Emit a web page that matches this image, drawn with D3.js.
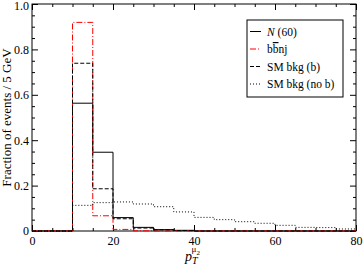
<!DOCTYPE html>
<html>
<head>
<meta charset="utf-8">
<script src="https://cdn.jsdelivr.net/npm/d3@7"></script>
<style>
  body { margin: 0; background: #fff; }
  svg { display: block; font-family: "Liberation Serif", "DejaVu Serif", serif; }
  .axis path { display: none; }
  .axis line { stroke: #000; stroke-width: 1; }
  .axis text { font-size: 12px; fill: #000; font-family: "Liberation Serif", serif; }
  .hist { fill: none; stroke-width: 1; }
</style>
</head>
<body>
<svg id="chart"></svg>
<script>
// bin lower edges (GeV), each bin 5 GeV wide
var binEdges = [0, 5, 10, 15, 20, 25, 30, 35, 40, 45, 50, 55, 60, 65, 70, 75]

var heavyN = [0, 0, 0.563, 0.347, 0.059, 0.016, 0.006, 0.003, 0, 0, 0, 0, 0, 0, 0, 0]
var bbnj = [0, 0, 0.919, 0.067, 0.007, 0.001, 0, 0, 0, 0, 0, 0, 0, 0, 0, 0]
var smB = [0, 0, 0.739, 0.186, 0.054, 0.013, 0.005, 0.002, 0, 0, 0, 0, 0, 0, 0, 0]
var smNoB = [0, 0, 0.113, 0.125, 0.128, 0.119, 0.107, 0.084, 0.060, 0.050, 0.041, 0.034, 0.025, 0.016, 0.015, 0.009]

var xTicks = [0, 20, 40, 60, 80]
var yTicks = [0, 0.2, 0.4, 0.6, 0.8, 1.0]

var series = [
  {name: "N", values: heavyN, color: "#000", dash: null},
  {name: "bbnj", values: bbnj, color: "#ff0000", dash: "6,2,1,2"},
  {name: "SM bkg (b)", values: smB, color: "#000", dash: "4,2"},
  {name: "SM bkg (no b)", values: smNoB, color: "#000", dash: "1,2"}
]

var W = 363, H = 267
var margin = {top: 4, right: 7, bottom: 36, left: 32},
    width = W - margin.left - margin.right,
    height = H - margin.top - margin.bottom

var svg = d3.select("#chart").attr("width", W).attr("height", H)
var g = svg.append("g")
  .attr("transform", "translate(" + margin.left + "," + margin.top + ")")

var x = d3.scaleLinear().domain([0, 80]).range([0, width])
var y = d3.scaleLinear().domain([0, 1]).range([height, 0])

var xMinor = d3.range(0, 81, 5).filter(d => d % 20 != 0)
var yMinor = d3.range(0, 21).map(d => d * 0.05).filter(d => Math.round(d * 100) % 20 != 0)

// major + minor ticks, pointing inward on all four sides
function ticks(axisFn, scale, major, minor, tr, labels, fmt) {
  let a = g.append("g").attr("class", "axis").attr("transform", tr)
  a.call(axisFn(scale).tickValues(major).tickSizeInner(-6).tickSizeOuter(0)
    .tickPadding(labels ? 3 : 0).tickFormat(labels ? fmt : ""))
  let b = g.append("g").attr("class", "axis").attr("transform", tr)
  b.call(axisFn(scale).tickValues(minor).tickSizeInner(-3).tickSizeOuter(0).tickFormat(""))
  return a
}
var yFmt = d => d === 0 ? "0" : d3.format(".1f")(d)
var bx = ticks(d3.axisBottom, x, xTicks, xMinor, "translate(0," + height + ")", true, d3.format("d"))
bx.selectAll("text").attr("dy", "0.9em")
ticks(d3.axisTop, x, xTicks, xMinor, "translate(0,0)", false)
var ly = ticks(d3.axisLeft, y, yTicks, yMinor, "translate(0,0)", true, yFmt)
ly.selectAll("text").filter(d => d == 1).attr("dy", "0.45em")
ticks(d3.axisRight, y, yTicks, yMinor, "translate(" + width + ",0)", false)

// frame
g.append("rect").attr("width", width).attr("height", height)
  .attr("fill", "none").attr("stroke", "#000").attr("stroke-width", 1)

// step histograms
var step = d3.line().x(d => x(d[0])).y(d => y(d[1]))
function stepPoints(vals) {
  let pts = []
  vals.forEach((v, i) => {
    pts.push([binEdges[i], v])
    pts.push([binEdges[i] + 5, v])
  })
  return pts
}
series.forEach(s => {
  g.append("path").attr("class", "hist")
    .attr("d", step(stepPoints(s.values)))
    .attr("stroke", s.color)
    .attr("stroke-dasharray", s.dash)
})

// legend
var lg = svg.append("g").attr("transform", "translate(247,20)")
lg.append("rect").attr("width", 96).attr("height", 77)
  .attr("fill", "#fff").attr("stroke", "#000").attr("stroke-width", 1)
var rows = lg.selectAll(".row").data(series).enter().append("g")
  .attr("transform", (d, i) => "translate(0," + (11.5 + i * 17.5) + ")")
rows.append("line").attr("x1", 3).attr("x2", 14)
  .attr("stroke", d => d.color).attr("stroke-dasharray", d => d.dash)
var lt = rows.append("text").attr("x", 20).attr("dy", "0.35em")
  .style("font-size", "11.5px")
lt.each(function(d) {
  let t = d3.select(this)
  if (d.name == "N") {
    t.append("tspan").style("font-style", "italic").text("N")
    t.append("tspan").text(" (60)")
  } else if (d.name == "bbnj") {
    t.append("tspan").text("b")
    t.append("tspan").style("text-decoration", "overline").text("b")
    t.append("tspan").text("nj")
  } else {
    t.text(d.name)
  }
})

// axis titles
svg.append("text")
  .attr("transform", "translate(11," + (margin.top + height / 2) + ") rotate(-90)")
  .attr("text-anchor", "middle")
  .style("font-size", "13px")
  .text("Fraction of events / 5 GeV")

var xl = svg.append("text").attr("x", 185).attr("y", 261).style("font-size", "14px")
xl.append("tspan").style("font-style", "italic").text("p")
xl.append("tspan").style("font-style", "italic").style("font-size", "10px").attr("dy", 3).text("T")
xl.append("tspan").style("font-size", "9px").attr("dx", -6).attr("dy", -12).text("\u03bc")
xl.append("tspan").style("font-size", "7px").attr("dy", 2.5).text("2")
</script>
</body>
</html>
